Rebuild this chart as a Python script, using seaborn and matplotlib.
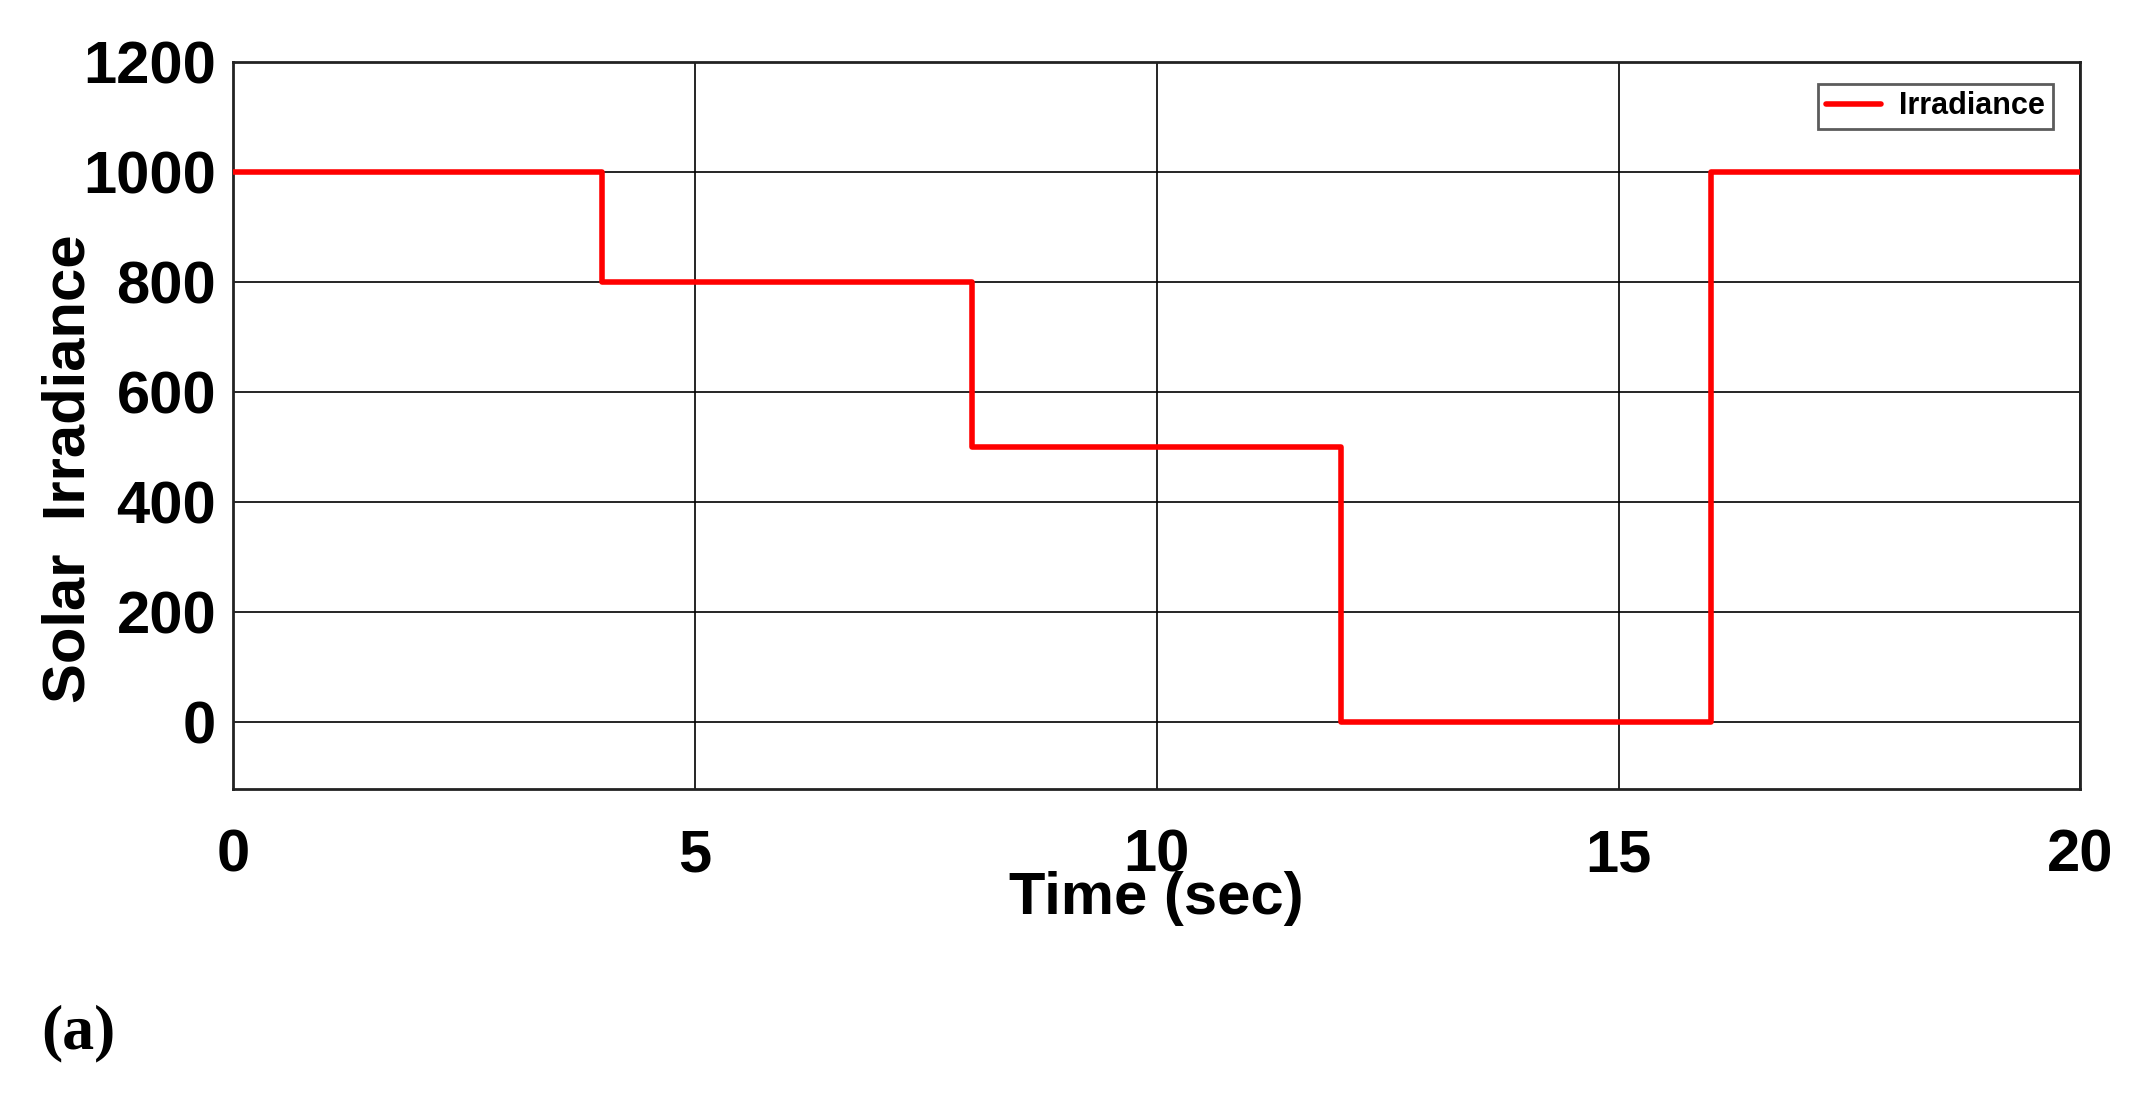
import matplotlib
matplotlib.use("Agg")
import matplotlib.pyplot as plt
import seaborn as sns
import pandas as pd

# step profile of solar irradiance
time_sec = [0, 4, 8, 12, 16, 20]
irradiance = [1000, 800, 500, 0, 1000, 1000]
x_ticks = [0, 5, 10, 15, 20]
y_ticks = [0, 200, 400, 600, 800, 1000, 1200]

sns.set_style("white")
plt.rcParams['font.family'] = ['Liberation Sans', 'DejaVu Sans']
plt.rcParams['text.color'] = 'black'
plt.rcParams['axes.labelcolor'] = 'black'
plt.rcParams['xtick.color'] = 'black'
plt.rcParams['ytick.color'] = 'black'

df = pd.DataFrame({"Time": time_sec, "Irradiance": irradiance})

fig = plt.figure(figsize=(21.47, 11.04), dpi=100)
ax = fig.add_axes([0.1085, 0.285, 0.8605, 0.659])

sns.lineplot(data=df, x="Time", y="Irradiance", drawstyle="steps-post",
             color="#ff0000", linewidth=4, label="Irradiance", ax=ax, zorder=3)

ax.set_xlim(0, 20)
ax.set_ylim(-122, 1200)
ax.set_xticks(x_ticks)
ax.set_yticks(y_ticks)
ax.grid(True, color="black", linewidth=1.2, linestyle="-")
ax.set_axisbelow(True)
for s in ax.spines.values():
    s.set_color("#222222")
    s.set_linewidth(2)
ax.tick_params(direction="in", length=10, width=1.5, labelsize=43)
ax.tick_params(axis="y", pad=12)
ax.tick_params(axis="x", pad=28)
for lbl in ax.get_xticklabels() + ax.get_yticklabels():
    lbl.set_fontweight("bold")

ax.set_xlabel("Time (sec)", fontsize=43, fontweight="bold")
ax.xaxis.set_label_coords(0.5, -0.112)
ax.set_ylabel("Solar  Irradiance", fontsize=43, fontweight="bold")
ax.yaxis.set_label_coords(-0.074, 0.44)

leg = ax.legend(loc="upper right", bbox_to_anchor=(0.985, 0.97),
                prop={"weight": "bold", "size": 22},
                frameon=True, fancybox=False, edgecolor="#333333",
                handlelength=1.8, handletextpad=0.6, borderpad=0.25, borderaxespad=0)
leg.get_frame().set_linewidth(2)

fig.text(0.019, 0.064, "(a)", fontsize=46, fontweight="bold",
         family="Liberation Serif", ha="left", va="center")

fig.savefig("out.png", dpi=100, facecolor="white")
